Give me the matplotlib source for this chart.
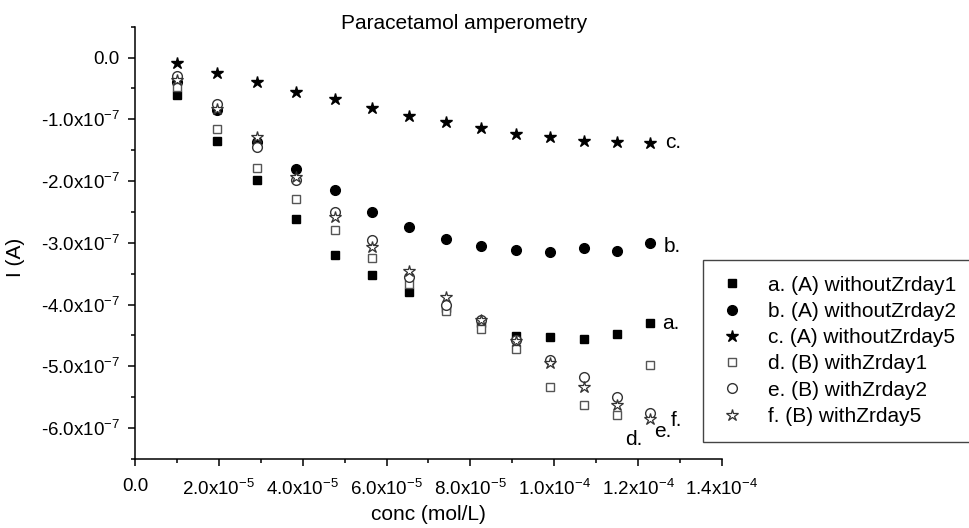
import math
import matplotlib
matplotlib.use('Agg')
import matplotlib.pyplot as plt
from matplotlib.ticker import MultipleLocator, FuncFormatter

plt.rcParams['font.family'] = ['Liberation Sans', 'DejaVu Sans']
plt.rcParams['mathtext.fontset'] = 'custom'
plt.rcParams['mathtext.rm'] = 'Liberation Sans'
plt.rcParams['mathtext.it'] = 'Liberation Sans'

# concentration (mol/L)
conc = [1.0e-5, 1.96e-5, 2.9e-5, 3.84e-5, 4.76e-5, 5.66e-5, 6.54e-5,
        7.42e-5, 8.25e-5, 9.08e-5, 9.9e-5, 1.07e-4, 1.15e-4, 1.228e-4]

# current, in units of 1e-7 A
a_without_day1 = [-0.61, -1.35, -1.98, -2.62, -3.20, -3.52, -3.80,
                  -4.05, -4.30, -4.51, -4.53, -4.55, -4.47, -4.30]
b_without_day2 = [-0.40, -0.85, -1.37, -1.80, -2.15, -2.50, -2.74,
                  -2.93, -3.05, -3.11, -3.15, -3.09, -3.13, -3.00]
c_without_day5 = [-0.09, -0.25, -0.39, -0.55, -0.67, -0.82, -0.95,
                  -1.05, -1.135, -1.23, -1.29, -1.35, -1.36, -1.39]
d_with_day1 = [-0.48, -1.15, -1.79, -2.29, -2.79, -3.25, -3.66,
               -4.10, -4.40, -4.72, -5.33, -5.62, -5.78, -4.97]
e_with_day2 = [-0.30, -0.75, -1.44, -1.98, -2.50, -2.95, -3.55,
               -4.00, -4.25, -4.57, -4.90, -5.17, -5.50, -5.75]
f_with_day5 = [-0.36, -0.83, -1.29, -1.93, -2.58, -3.06, -3.45,
               -3.88, -4.25, -4.59, -4.94, -5.34, -5.62, -5.85]

labels = ['a. (A) withoutZrday1', 'b. (A) withoutZrday2', 'c. (A) withoutZrday5',
          'd. (B) withZrday1', 'e. (B) withZrday2', 'f. (B) withZrday5']

fig = plt.figure(figsize=(9.7, 5.28), dpi=100)
ax = fig.add_axes([0.1392, 0.1307, 0.6051, 0.8187])

def amps(vals):
    return [v * 1e-7 for v in vals]

ax.plot(conc, amps(a_without_day1), 's', color='black', ms=6, label=labels[0])
ax.plot(conc, amps(b_without_day2), 'o', color='black', ms=7, label=labels[1])
ax.plot(conc, amps(c_without_day5), '*', color='black', ms=9, label=labels[2])
ax.plot(conc, amps(d_with_day1), 's', mfc='white', mec='#555555', mew=1.0, ms=6, label=labels[3])
ax.plot(conc, amps(e_with_day2), 'o', mfc='white', mec='#333333', mew=1.0, ms=7, label=labels[4])
ax.plot(conc, amps(f_with_day5), '*', mfc='white', mec='#333333', mew=0.9, ms=9, label=labels[5])

ax.set_xlim(0, 1.4e-4)
ax.set_ylim(-6.5e-7, 0.5e-7)

for s in ['top', 'right']:
    ax.spines[s].set_visible(False)
for s in ['left', 'bottom']:
    ax.spines[s].set_linewidth(1.1)

ax.xaxis.set_major_locator(MultipleLocator(2e-5))
ax.xaxis.set_minor_locator(MultipleLocator(1e-5))
ax.yaxis.set_major_locator(MultipleLocator(1e-7))
ax.yaxis.set_minor_locator(MultipleLocator(0.5e-7))

def sci_fmt(v, pos):
    if abs(v) < 1e-12:
        return '0.0'
    exp = int(math.floor(math.log10(abs(v)) + 1e-9))
    m = v / 10 ** exp
    return '%.1fx10$^{%d}$' % (m, exp)

ax.xaxis.set_major_formatter(FuncFormatter(sci_fmt))
ax.yaxis.set_major_formatter(FuncFormatter(sci_fmt))
ax.tick_params(which='major', direction='out', length=5, width=1.1, labelsize=13.5)
ax.tick_params(axis='x', which='major', pad=9)
ax.tick_params(axis='y', which='major', pad=6)
ax.tick_params(which='minor', direction='out', length=3, width=1.1)

ax.set_xlabel('conc (mol/L)', fontsize=15, va='center')
ax.xaxis.set_label_coords(0.5, -0.1295)
ax.set_ylabel('I (A)', fontsize=15, va='center', ha='center', rotation_mode='default')
ax.yaxis.set_label_coords(-0.204, 0.467)

fig.text(0.478, 0.956, 'Paracetamol amperometry', fontsize=15, ha='center', va='center')

# series end labels
ax.text(12.65e-5, -1.383e-7, 'c.', fontsize=15, va='center')
ax.text(12.61e-5, -3.065e-7, 'b.', fontsize=15, va='center')
ax.text(12.57e-5, -4.30e-7, 'a.', fontsize=15, va='center')
ax.text(11.69e-5, -6.18e-7, 'd.', fontsize=15, va='center')
ax.text(12.39e-5, -6.06e-7, 'e.', fontsize=15, va='center')
ax.text(12.77e-5, -5.875e-7, 'f.', fontsize=15, va='center')

leg = fig.legend(loc='upper left', bbox_to_anchor=(0.7247, 0.5076), fontsize=15,
                 frameon=True, fancybox=False, edgecolor='#444444', framealpha=1,
                 handlelength=1.3, handletextpad=1.05, borderpad=0.75,
                 labelspacing=0.35, borderaxespad=0, numpoints=1)
leg.get_frame().set_linewidth(1.0)

fig.savefig('out.png', dpi=100)
